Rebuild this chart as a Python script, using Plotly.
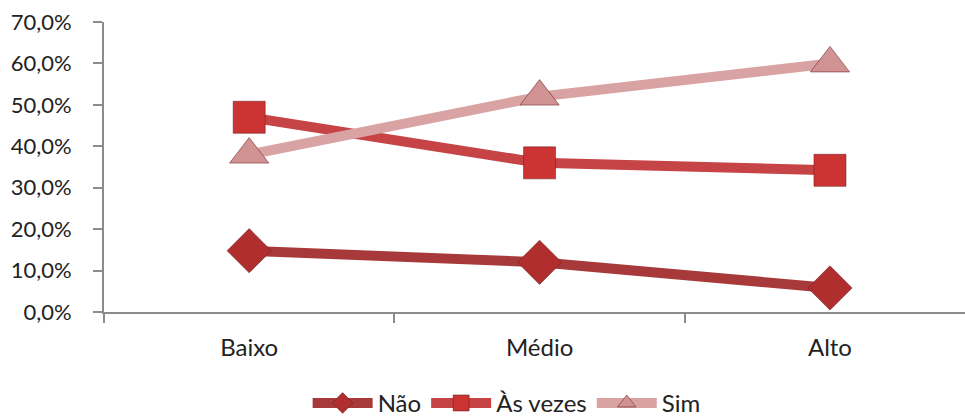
import plotly.graph_objects as go

categories = ["Baixo", "Médio", "Alto"]
nao = [0.148, 0.120, 0.058]
as_vezes = [0.470, 0.360, 0.342]
sim = [0.380, 0.520, 0.600]

series = [
    ("Não", nao, "#A8393A", "#B02E2E", "diamond", 34),
    ("Às vezes", as_vezes, "#C64446", "#CC3434", "square", 32),
    ("Sim", sim, "#D9A3A4", "#D09293", "triangle-up", 34),
]

fig = go.Figure()
for name, vals, lcol, mcol, sym, size in series:
    fig.add_trace(go.Scatter(
        x=categories, y=vals, name=name, mode="lines+markers",
        line=dict(color=lcol, width=10),
        marker=dict(symbol=sym, size=size, color=mcol,
                    line=dict(color="rgba(110,30,30,0.55)", width=1)),
    ))

fig.update_layout(
    width=965, height=418,
    margin=dict(l=104, r=0, t=22, b=106),
    paper_bgcolor="white", plot_bgcolor="white",
    separators=",.",
    font=dict(family="Lato, 'Open Sans', sans-serif", size=24, color="#222222"),
    showlegend=True,
    legend=dict(orientation="h", xref="container", yref="container",
                x=0.525, xanchor="center", y=0.035, yanchor="middle",
                itemwidth=60, font=dict(size=24), traceorder="normal"),
)
fig.update_xaxes(
    type="category", range=[-0.5, 2.465],
    showline=True, linecolor="#8C8C8C", linewidth=2,
    ticks="outside", tickson="boundaries", ticklen=9, tickcolor="#8C8C8C", tickwidth=2,
    ticklabelstandoff=13, showgrid=False, zeroline=False,
)
fig.update_yaxes(
    range=[0, 0.7], dtick=0.1, tickformat=".1%", tickfont=dict(size=22),
    showline=True, linecolor="#8C8C8C", linewidth=2,
    ticks="outside", ticklen=9, tickcolor="#8C8C8C", tickwidth=2,
    ticklabelstandoff=17, showgrid=False, zeroline=False,
)

fig.write_html("out.html")
